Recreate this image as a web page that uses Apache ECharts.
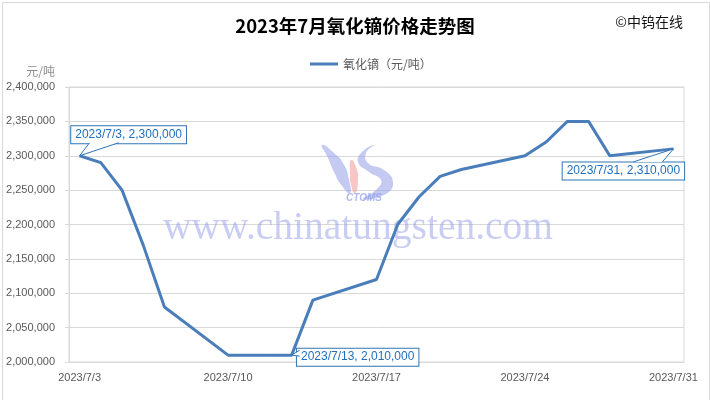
<!DOCTYPE html>
<html>
<head>
<meta charset="utf-8">
<script src="https://cdn.jsdelivr.net/npm/echarts@6/dist/echarts.min.js"></script>
<style>
html,body{margin:0;padding:0;background:#fff;}
#c{width:710px;height:400px;}
</style>
</head>
<body>
<div id="c"></div>
<script>
// ---- data ----
const chartTitle = '2023年7月氧化镝价格走势图';
const seriesName = '氧化镝（元/吨）';
// calendar days on the date axis
const axisDays = ['2023/7/3','2023/7/4','2023/7/5','2023/7/6','2023/7/7','2023/7/8','2023/7/9',
  '2023/7/10','2023/7/11','2023/7/12','2023/7/13','2023/7/14','2023/7/15','2023/7/16',
  '2023/7/17','2023/7/18','2023/7/19','2023/7/20','2023/7/21','2023/7/22','2023/7/23',
  '2023/7/24','2023/7/25','2023/7/26','2023/7/27','2023/7/28','2023/7/29','2023/7/30',
  '2023/7/31'];
// trading days and prices
const dates = ['2023/7/3','2023/7/4','2023/7/5','2023/7/6','2023/7/7',
  '2023/7/10','2023/7/11','2023/7/12','2023/7/13','2023/7/14',
  '2023/7/17','2023/7/18','2023/7/19','2023/7/20','2023/7/21',
  '2023/7/24','2023/7/25','2023/7/26','2023/7/27','2023/7/28',
  '2023/7/31'];
const prices = [2300000,2290000,2250000,2170000,2080000,
  2010000,2010000,2010000,2010000,2090000,
  2120000,2200000,2240000,2270000,2280000,
  2300000,2320000,2350000,2350000,2300000,
  2310000];
const labelledDates = ['2023/7/3','2023/7/13','2023/7/31'];

const fmt = v => Math.round(v).toLocaleString('en-US');

// label placement (offset of label centre from its point) and callout wedge geometry
const labelOffsets = { '2023/7/3':[49,-21], '2023/7/13':[66,2], '2023/7/31':[-50,22] };
const wedges = {
  '2023/7/3':  [[10,-13],[39,-13]],
  '2023/7/13': [[8,-5],[8,1]],
  '2023/7/31': [[-40,13],[-11,13]]
};

const seriesData = dates.map((d,i)=>{
  const item = { value:[d, prices[i]] };
  if (labelledDates.indexOf(d) >= 0) {
    item.label = { show:true, formatter: d + ', ' + fmt(prices[i]) };
  }
  return item;
});

const chart = echarts.init(document.getElementById('c'), null, {renderer:'canvas'});
const staticGraphics = [
  { type:'rect', left:0, top:0, silent:true, z:-10,
    shape:{ x:0.5, y:0.5, width:707, height:398 },
    style:{ fill:null, stroke:'#d9d9d9', lineWidth:1 } },
  // watermark logo (decoration)
  { type:'polygon', silent:true, z:1,
    shape:{ smooth:0.6, points:[[322,145],[334,153],[344,165],[349,180],[350,193],[342,186],[334,172],[328,158]] },
    style:{ fill:'rgba(150,158,232,0.55)' } },
  { type:'polygon', silent:true, z:1,
    shape:{ smooth:0.6, points:[[351,160],[356,167],[358,181],[355,193],[351,185],[350,172]] },
    style:{ fill:'rgba(245,160,160,0.6)' } },
  { type:'polygon', silent:true, z:1,
    shape:{ smooth:0.5, points:[[374,145],[366,153],[368,163],[384,170],[393,182],[386,194],[363,199],[377,189],[381,180],[369,172],[358,162],[362,152]] },
    style:{ fill:'rgba(150,158,232,0.55)' } },
  { type:'text', silent:true, z:1, x:364, y:198,
    style:{ text:'CTOMS', fill:'rgba(140,155,235,0.7)', font:'italic bold 10px Liberation Sans', textAlign:'center', textVerticalAlign:'middle' } },
  { type:'text', silent:true, z:1, x:358, y:229,
    style:{ text:'www.chinatungsten.com', fill:'rgba(150,155,232,0.5)', font:'39.5px Liberation Serif', textAlign:'center', textVerticalAlign:'middle' } }
];

const option = {
  backgroundColor:'#fff',
  animation:false,
  title:[
    { text: chartTitle, left:'center', top:12,
      textStyle:{ fontFamily:'Noto Sans CJK SC', fontWeight:'bold', fontSize:18.5, color:'#000' } },
    { text:'©中钨在线', right:22, top:10,
      textStyle:{ fontFamily:'Noto Sans CJK SC', fontWeight:'normal', fontSize:14, color:'#111' } }
  ],
  legend:{
    left:305, top:53,
    icon:'rect', itemWidth:28, itemHeight:3, itemGap:5,
    textStyle:{ fontFamily:'Noto Sans CJK SC', fontSize:12, color:'#595959' },
    data:[seriesName]
  },
  grid:{ left:69, right:26, top:87, bottom:38, show:true, borderColor:'#d9d9d9', borderWidth:1 },
  xAxis:{
    type:'category', data:axisDays, boundaryGap:true,
    axisLine:{ show:true, lineStyle:{ color:'#d9d9d9' } },
    axisTick:{ show:false },
    splitLine:{ show:false },
    axisLabel:{ interval:6, color:'#595959', fontSize:11, fontFamily:'Liberation Sans', margin:10 }
  },
  yAxis:{
    type:'value', min:2000000, max:2400000, interval:50000,
    name:'元/吨', nameLocation:'end', nameGap:10,
    nameTextStyle:{ color:'#8c8c8c', fontSize:12, fontFamily:'Noto Sans CJK SC', align:'right', padding:[0,14,0,0] },
    axisLine:{ show:true, lineStyle:{ color:'#d9d9d9' } },
    axisTick:{ show:true, length:4, lineStyle:{ color:'#d9d9d9' } },
    splitLine:{ show:true, lineStyle:{ color:'#d9d9d9', width:1 } },
    axisLabel:{ formatter: v => fmt(v), color:'#595959', fontSize:11, fontFamily:'Liberation Sans', margin:14 }
  },
  graphic: staticGraphics,
  series:[{
    name:seriesName,
    type:'line',
    data:seriesData,
    connectNulls:true,
    z:3,
    symbol:'circle', symbolSize:1, showSymbol:true,
    itemStyle:{ color:'#4a7ebb' },
    lineStyle:{ color:'#4a7ebb', width:3 },
    label:{
      show:false, position:'inside',
      color:'#1f6fbf', fontSize:12, fontFamily:'Liberation Sans',
      backgroundColor:'#fff', borderColor:'#2e75b6', borderWidth:1, padding:[3,4,2,4]
    },
    labelLayout: function(p){
      const o = labelOffsets[dates[p.dataIndex]];
      if (!o) return {};
      return { dx:o[0], dy:o[1] };
    }
  }]
};
chart.setOption(option);

// callout wedges, positioned through the chart's own scales
const wedgeGraphics = labelledDates.map(d=>{
  const i = dates.indexOf(d);
  const p = chart.convertToPixel({gridIndex:0}, [d, prices[i]]);
  const w = wedges[d];
  return { type:'polyline', silent:true, z:20,
    shape:{ points:[[p[0]+w[0][0], p[1]+w[0][1]], [p[0], p[1]], [p[0]+w[1][0], p[1]+w[1][1]]] },
    style:{ stroke:'#2e75b6', lineWidth:1, fill:'#fff' } };
});
chart.setOption({ graphic: staticGraphics.concat(wedgeGraphics) });
</script>
</body>
</html>
